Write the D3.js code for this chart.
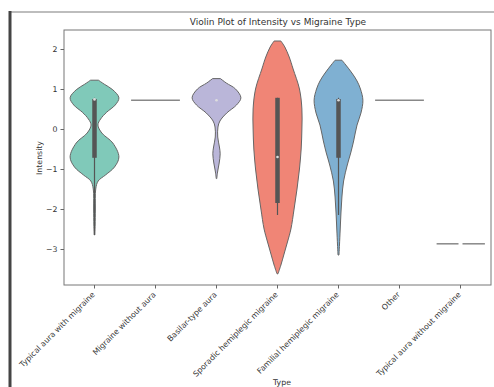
<!DOCTYPE html>
<html><head><meta charset="utf-8">
<script src="https://cdn.jsdelivr.net/npm/d3@7"></script>
<style>body{margin:0;background:#fff}svg{display:block}text{font-family:"DejaVu Sans",sans-serif;fill:#333}</style>
</head><body><svg id="c" width="494" height="387"></svg>
<script>
const categories = ["Typical aura with migraine","Migraine without aura","Basilar-type aura","Sporadic hemiplegic migraine","Familial hemiplegic migraine","Other","Typical aura without migraine"];
const colors = ["#80c9b9","#999999","#bab6d9","#f08576","#7fb0d2","#999999","#999999"];
const yTicks = [-3,-2,-1,0,1,2];
// violin density profiles: [value, relative half-width]
const densTypicalAura = [[1.22,0.16],[1.12,0.4],[0.98,0.75],[0.78,1.0],[0.6,0.85],[0.42,0.5],[0.25,0.25],[0.1,0.14],[-0.1,0.3],[-0.35,0.75],[-0.7,1.0],[-0.95,0.82],[-1.15,0.45],[-1.3,0.15],[-1.5,0.05],[-2.0,0.035],[-2.4,0.025],[-2.65,0.01]];
const densBasilar = [[1.26,0.16],[1.15,0.4],[1.0,0.78],[0.78,1.0],[0.6,0.82],[0.4,0.42],[0.2,0.14],[0.05,0.06],[-0.2,0.05],[-0.45,0.12],[-0.62,0.15],[-0.85,0.11],[-1.05,0.05],[-1.24,0.01]];
const densSporadic = [[2.2,0.14],[2.05,0.3],[1.8,0.48],[1.5,0.64],[1.0,0.9],[0.5,1.0],[0.0,1.0],[-0.5,0.97],[-1.0,0.9],[-1.5,0.8],[-2.0,0.68],[-2.5,0.55],[-2.8,0.42],[-3.1,0.28],[-3.4,0.14],[-3.62,0.02]];
const densFamilial = [[1.72,0.14],[1.6,0.3],[1.4,0.55],[1.2,0.76],[1.0,0.9],[0.72,1.0],[0.4,0.92],[0.1,0.76],[-0.3,0.62],[-0.6,0.5],[-0.9,0.36],[-1.3,0.21],[-1.7,0.14],[-2.1,0.1],[-2.5,0.07],[-2.9,0.04],[-3.15,0.02]];
const densities = [densTypicalAura,null,densBasilar,densSporadic,densFamilial,null,null];
// box stats: [whiskerLow, q1, median, q3, whiskerHigh]
const boxStats = [[-2.65,-0.72,0.74,0.75,0.78],null,[0.72,0.72,0.72,0.72,0.72],[-2.15,-1.85,-0.7,0.78,0.78],[-2.15,-0.72,0.72,0.75,0.78],null,null];
// single-observation groups: value drawn as horizontal line
const singleValues = [null,0.72,null,null,null,0.72,-2.87];
const singleSplit = [false,false,false,false,false,false,true];

const svg = d3.select("#c");
// screenshot frame
svg.append("line").attr("x1",9).attr("x2",494).attr("y1",12).attr("y2",12).attr("stroke","#bdbdbd").attr("stroke-width",2);
svg.append("line").attr("x1",10).attr("x2",10).attr("y1",11).attr("y2",387).attr("stroke","#444").attr("stroke-width",3);

const L=64,R=491,T=30,B=285;
const x = d3.scaleBand().domain(categories).range([L,R]).padding(0);
const y = d3.scaleLinear().domain([-3.9,2.475]).range([B,T]);
const w = d3.scaleLinear().domain([0,1]).range([0,x.bandwidth()*0.4]);

const g = svg.append("g");
categories.forEach((c,i)=>{
  const cx = x(c)+x.bandwidth()/2;
  const d = densities[i];
  if(d){
    const area = d3.area().curve(d3.curveCatmullRom)
      .y(p=>y(p[0])).x0(p=>cx-w(p[1])).x1(p=>cx+w(p[1]));
    g.append("path").attr("d",area(d)).attr("fill",colors[i]).attr("stroke","#666").attr("stroke-width",1);
  }
  const b = boxStats[i];
  if(b && d){
    if(b[0]!==b[4]) g.append("line").attr("x1",cx).attr("x2",cx).attr("y1",y(b[0])).attr("y2",y(b[4])).attr("stroke","#555").attr("stroke-width",1.2);
    if(b[1]!==b[3]) g.append("line").attr("x1",cx).attr("x2",cx).attr("y1",y(b[1])).attr("y2",y(b[3])).attr("stroke","#555").attr("stroke-width",4.5);
    g.append("circle").attr("cx",cx).attr("cy",y(b[2])).attr("r",1.3).attr("fill","#ddd");
  }
  const s = singleValues[i];
  if(s!==null){
    const hw = x.bandwidth()*0.4;
    if(singleSplit[i]){
      g.append("line").attr("x1",cx-hw+0.5).attr("x2",cx-2).attr("y1",y(s)).attr("y2",y(s)).attr("stroke","#888").attr("stroke-width",1.5);
      g.append("line").attr("x1",cx+2).attr("x2",cx+hw).attr("y1",y(s)).attr("y2",y(s)).attr("stroke","#888").attr("stroke-width",1.5);
    } else {
      g.append("line").attr("x1",cx-hw).attr("x2",cx+hw).attr("y1",y(s)).attr("y2",y(s)).attr("stroke","#888").attr("stroke-width",1.5);
    }
  }
});

// frame
svg.append("rect").attr("x",L).attr("y",T).attr("width",R-L).attr("height",B-T).attr("fill","none").attr("stroke","#777").attr("stroke-width",1);

const ya = svg.append("g").attr("transform",`translate(${L},0)`)
  .call(d3.axisLeft(y).tickValues(yTicks).tickSize(3.5).tickPadding(3).tickFormat(d=>d<0?"\u2212"+Math.abs(d):d));
ya.select(".domain").remove();
ya.selectAll("line").attr("stroke","#666");
ya.selectAll("text").style("font-size","7.8px").attr("fill","#333");

const xa = svg.append("g").attr("transform",`translate(0,${B})`)
  .call(d3.axisBottom(x).tickSize(3.5).tickPadding(3));
xa.select(".domain").remove();
xa.selectAll("line").attr("stroke","#666");
xa.selectAll("text").style("font-size","7.8px").attr("fill","#333")
  .attr("text-anchor","end").attr("dy",null).attr("y",null)
  .attr("transform","translate(1,10) rotate(-45)");

svg.append("text").attr("x",278).attr("y",25).attr("text-anchor","middle").style("font-size","9px").text("Violin Plot of Intensity vs Migraine Type");
svg.append("text").attr("transform","translate(42,158) rotate(-90)").attr("text-anchor","middle").style("font-size","7.8px").text("Intensity");
svg.append("text").attr("x",282).attr("y",385).attr("text-anchor","middle").style("font-size","7.8px").text("Type");
</script></body></html>
